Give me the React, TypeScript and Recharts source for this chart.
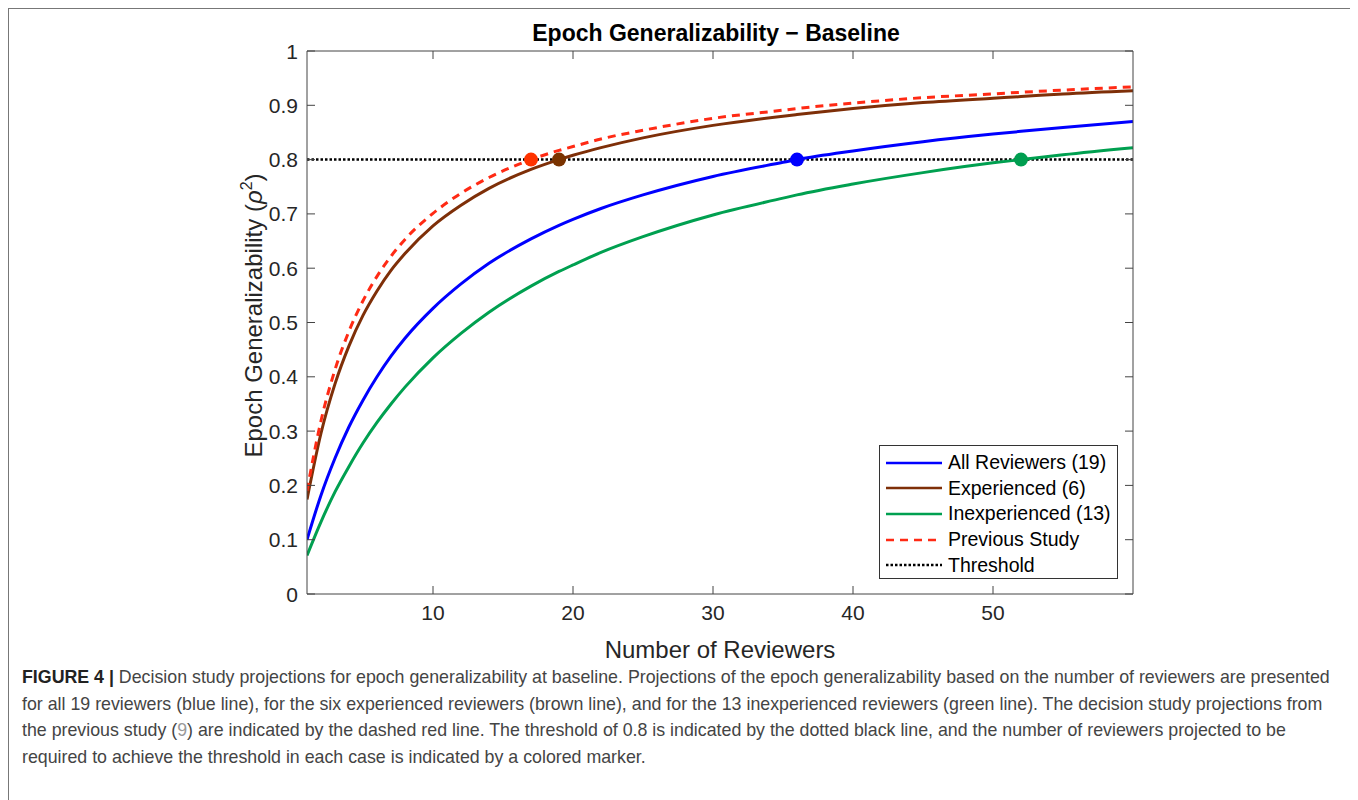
import React from "react";
import {
  ComposedChart,
  Line,
  XAxis,
  YAxis,
  ReferenceLine,
  ReferenceDot,
  Legend,
} from "recharts";

// number of reviewers (x) and projected generalizability
const reviewers = [1, 2, 3, 4, 5, 6, 7, 8, 10, 12, 14, 17, 19, 20, 22, 25, 30, 35, 36, 40, 45, 50, 52, 55, 60];
const allReviewers = [0.1, 0.182, 0.25, 0.308, 0.357, 0.4, 0.438, 0.471, 0.526, 0.571, 0.609, 0.654, 0.679, 0.69, 0.71, 0.735, 0.769, 0.795, 0.8, 0.816, 0.833, 0.847, 0.852, 0.859, 0.87];
const experienced = [0.174, 0.296, 0.387, 0.457, 0.513, 0.558, 0.596, 0.627, 0.678, 0.716, 0.747, 0.782, 0.8, 0.808, 0.822, 0.84, 0.863, 0.88, 0.883, 0.894, 0.905, 0.913, 0.916, 0.921, 0.927];
const inexperienced = [0.071, 0.133, 0.188, 0.235, 0.278, 0.316, 0.35, 0.381, 0.435, 0.48, 0.519, 0.567, 0.594, 0.606, 0.629, 0.658, 0.698, 0.729, 0.735, 0.755, 0.776, 0.794, 0.8, 0.809, 0.822];
const previousStudy = [0.19, 0.319, 0.413, 0.484, 0.54, 0.585, 0.622, 0.653, 0.701, 0.738, 0.767, 0.8, 0.817, 0.824, 0.838, 0.854, 0.876, 0.891, 0.894, 0.904, 0.914, 0.921, 0.924, 0.928, 0.934];

const threshold = 0.8;
// reviewers needed to reach the threshold: all, experienced, inexperienced, previous
const reviewersAtThreshold = [36, 19, 52, 17];

const xTicks = [10, 20, 30, 40, 50];
const yTicks = [0, 0.1, 0.2, 0.3, 0.4, 0.5, 0.6, 0.7, 0.8, 0.9, 1];

const captionLines = [
  "Decision study projections for epoch generalizability at baseline. Projections of the epoch generalizability based on the number of reviewers are presented",
  "for all 19 reviewers (blue line), for the six experienced reviewers (brown line), and for the 13 inexperienced reviewers (green line). The decision study projections from",
  "the previous study (9) are indicated by the dashed red line. The threshold of 0.8 is indicated by the dotted black line, and the number of reviewers projected to be",
  "required to achieve the threshold in each case is indicated by a colored marker.",
];

const FONT = "'Liberation Sans', Arial, Helvetica, sans-serif";
const AXIS = "#444";
const TEXT = "#262626";

const series = [
  { key: "all", name: "All Reviewers (19)", color: "#0000ff", marker: "#0000ff", dash: undefined as string | undefined },
  { key: "exp", name: "Experienced (6)", color: "#7e2f08", marker: "#7a3300", dash: undefined },
  { key: "inexp", name: "Inexperienced (13)", color: "#00a050", marker: "#009e50", dash: undefined },
  { key: "prev", name: "Previous Study", color: "#ff2a14", marker: "#ff3300", dash: "8 6" },
];

const data = reviewers.map((n, i) => ({
  n,
  all: allReviewers[i],
  exp: experienced[i],
  inexp: inexperienced[i],
  prev: previousStudy[i],
}));

const legendItems = [
  ...series.map((s) => ({ name: s.name, color: s.color, dash: s.dash })),
  { name: "Threshold", color: "#000", dash: "2.5 2" },
];

const fmt = (v: number) => String(v);

const BottomTick = (props: any) => {
  const { x, y, payload } = props;
  return (
    <g>
      <line x1={x} x2={x} y1={y} y2={y - 8} stroke={AXIS} />
      <text x={x} y={y + 26} textAnchor="middle" fontSize={21} fill={TEXT} fontFamily={FONT}>
        {fmt(payload.value)}
      </text>
    </g>
  );
};

const TopTick = (props: any) => {
  const { x, y } = props;
  return <line x1={x} x2={x} y1={y} y2={y + 8} stroke={AXIS} />;
};

const LeftTick = (props: any) => {
  const { x, y, payload } = props;
  return (
    <g>
      <line x1={x} x2={x + 8} y1={y} y2={y} stroke={AXIS} />
      <text x={x - 9} y={y + 7.5} textAnchor="end" fontSize={21} fill={TEXT} fontFamily={FONT}>
        {fmt(payload.value)}
      </text>
    </g>
  );
};

const RightTick = (props: any) => {
  const { x, y } = props;
  return <line x1={x} x2={x - 8} y1={y} y2={y} stroke={AXIS} />;
};

const titleLabel = (props: any) => {
  const { viewBox } = props;
  return (
    <text
      x={viewBox.x + viewBox.width / 2 - 4}
      y={viewBox.y + viewBox.height - 10}
      textAnchor="middle"
      fontSize={23}
      fontWeight="bold"
      fill="#000"
      fontFamily={FONT}
    >
      Epoch Generalizability − Baseline
    </text>
  );
};

const xLabel = (props: any) => {
  const { viewBox } = props;
  return (
    <text
      x={viewBox.x + viewBox.width / 2}
      y={viewBox.y + 64}
      textAnchor="middle"
      fontSize={24}
      fill={TEXT}
      fontFamily={FONT}
    >
      Number of Reviewers
    </text>
  );
};

const yLabel = (props: any) => {
  const { viewBox } = props;
  const cx = viewBox.x + 15;
  const cy = viewBox.y + viewBox.height / 2 - 7;
  return (
    <text
      x={cx}
      y={cy}
      transform={`rotate(-90 ${cx} ${cy})`}
      textAnchor="middle"
      fontSize={24}
      fill={TEXT}
      fontFamily={FONT}
    >
      Epoch Generalizability (<tspan fontStyle="italic">ρ</tspan>
      <tspan dy={-10} fontSize={16}>2</tspan>
      <tspan dy={10}>)</tspan>
    </text>
  );
};

const renderLegend = () => (
  <div
    style={{
      width: 239,
      height: 134,
      boxSizing: "border-box",
      border: "1px solid #333",
      background: "#fff",
      paddingTop: 4,
      fontFamily: FONT,
    }}
  >
    {legendItems.map((item) => (
      <div key={item.name} style={{ display: "flex", alignItems: "center", height: 25.6 }}>
        <svg width={56} height={6} style={{ marginLeft: 6, marginRight: 6 }}>
          <line x1={0} x2={56} y1={3} y2={3} stroke={item.color} strokeWidth={2.5} strokeDasharray={item.dash} />
        </svg>
        <span style={{ fontSize: 19.5, color: "#000", whiteSpace: "nowrap" }}>{item.name}</span>
      </div>
    ))}
  </div>
);

export default function App() {
  return (
    <div
      style={{
        width: 1347,
        height: 800,
        border: "1px solid #777",
        position: "relative",
        fontFamily: FONT,
        background: "#fff",
      }}
    >
      <ComposedChart
        width={1340}
        height={670}
        data={data}
        margin={{ top: 12, right: 215, bottom: 45, left: 238 }}
      >
        <XAxis
          dataKey="n"
          type="number"
          domain={[1, 60]}
          allowDataOverflow
          ticks={xTicks}
          interval={0}
          height={40}
          tickSize={0}
          tickMargin={0}
          tickLine={false}
          axisLine={{ stroke: AXIS }}
          tick={<BottomTick />}
          label={xLabel}
        />
        <XAxis
          xAxisId="top"
          orientation="top"
          dataKey="n"
          type="number"
          domain={[1, 60]}
          allowDataOverflow
          ticks={xTicks}
          interval={0}
          height={30}
          tickSize={0}
          tickMargin={0}
          tickLine={false}
          axisLine={{ stroke: AXIS }}
          tick={<TopTick />}
          label={titleLabel}
        />
        <YAxis
          type="number"
          domain={[0, 1]}
          allowDataOverflow
          ticks={yTicks}
          interval={0}
          width={60}
          tickSize={0}
          tickMargin={0}
          tickLine={false}
          axisLine={{ stroke: AXIS }}
          tick={<LeftTick />}
          label={yLabel}
        />
        <YAxis
          yAxisId="right"
          orientation="right"
          type="number"
          domain={[0, 1]}
          allowDataOverflow
          ticks={yTicks}
          interval={0}
          width={1}
          tickSize={0}
          tickMargin={0}
          tickLine={false}
          axisLine={{ stroke: AXIS }}
          tick={<RightTick />}
        />
        <ReferenceLine y={threshold} stroke="#000" strokeWidth={2.5} strokeDasharray="2.5 2" />
        {series.map((s) => (
          <Line
            key={s.key}
            dataKey={s.key}
            name={s.name}
            type="monotone"
            stroke={s.color}
            strokeWidth={3}
            strokeDasharray={s.dash}
            dot={false}
            activeDot={false}
            isAnimationActive={false}
          />
        ))}
        {series.map((s, i) => (
          <ReferenceDot
            key={`m-${s.key}`}
            x={reviewersAtThreshold[i]}
            y={threshold}
            r={7}
            fill={s.marker}
            stroke="none"
          />
        ))}
        <Legend
          layout="horizontal"
          verticalAlign="middle"
          align="center"
          content={renderLegend}
          wrapperStyle={{ left: 870, top: 436, width: 239, height: 134 }}
        />
      </ComposedChart>
      <div style={{ position: "absolute", left: 13, top: 655, color: "#444", fontSize: 17.8, lineHeight: "26.7px", whiteSpace: "nowrap" }}>
        {captionLines.map((line, i) => (
          <div key={i}>
            {i === 0 && <b style={{ color: "#222" }}>FIGURE 4 | </b>}
            {i === 2 ? (
              <>
                the previous study (<span style={{ color: "#999" }}>9</span>)
                {line.slice("the previous study (9)".length)}
              </>
            ) : (
              line
            )}
          </div>
        ))}
      </div>
    </div>
  );
}
